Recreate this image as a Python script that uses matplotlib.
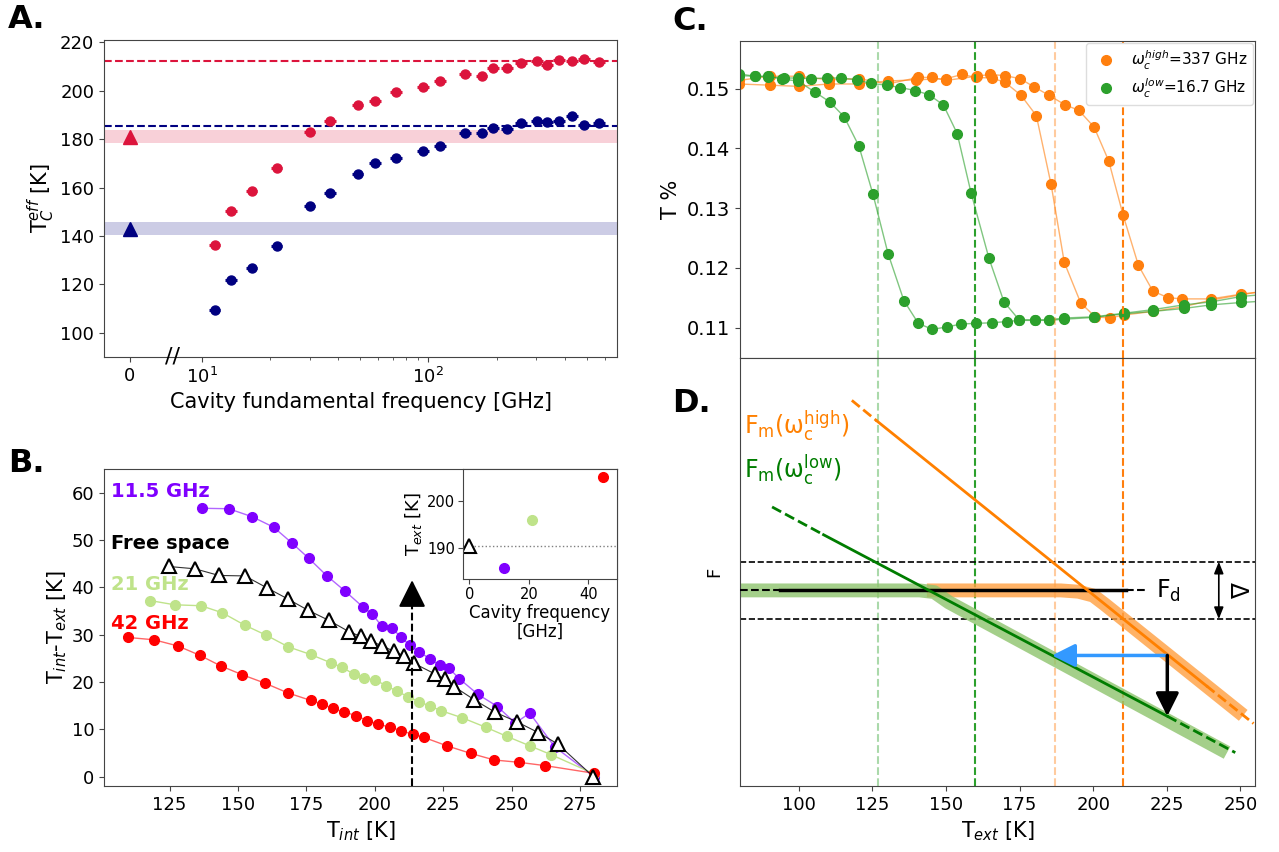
import numpy as np
import matplotlib
matplotlib.use("Agg")
import matplotlib.pyplot as plt
from matplotlib.ticker import FixedLocator, NullFormatter

plt.rcParams["axes.edgecolor"] = "#444444"
plt.rcParams["xtick.color"] = "#444444"
plt.rcParams["ytick.color"] = "#444444"
plt.rcParams["xtick.labelcolor"] = "black"
plt.rcParams["ytick.labelcolor"] = "black"

# ── A: effective Tc vs cavity fundamental frequency ─────────────
freq_a = [11.4, 13.5, 16.6, 21.4, 29.9, 36.8, 48.7, 58.1, 72.2, 95.1, 113,
          145, 172, 193, 223, 256, 302, 335, 377, 430, 488, 565]
tc_heat = [136.3, 150.2, 158.6, 168.0, 182.8, 187.6, 194.0, 195.8, 199.5,
           201.4, 204.0, 207.1, 206.0, 209.5, 209.6, 211.5, 212.5, 210.6,
           212.7, 212.3, 213.2, 212.1]
tc_cool = [109.6, 121.9, 126.7, 135.9, 152.4, 157.9, 165.7, 170.2, 172.3,
           175.3, 177.3, 182.4, 182.4, 184.6, 184.4, 186.9, 187.6, 187.3,
           187.6, 189.6, 185.8, 186.5]
free_heat, free_cool = 180.9, 142.9          # free space (plotted at "0")
band_heat = (178.3, 183.9)
band_cool = (140.4, 145.9)
asym_heat, asym_cool = 212.2, 185.4
ZERO_POS = 4.8                                # where "0" sits on the log axis
ERR_FRAC = 0.06

# ── B: Tint - Text vs Tint ─────────────────────────────────────
t_115 = [136.8, 146.6, 155.2, 163.0, 169.6, 175.9, 182.5, 189.1, 195.7, 199.1,
         202.5, 206.1, 209.6, 212.9, 216.3, 220.1, 223.7, 227.1, 230.8, 237.6,
         244.8, 251.3, 256.6, 265.7, 280.0]
d_115 = [56.7, 56.6, 54.9, 52.7, 49.4, 46.1, 42.4, 39.2, 35.8, 34.3, 31.8,
         31.5, 29.4, 27.7, 26.3, 24.9, 23.5, 22.9, 20.7, 17.4, 14.8, 11.3,
         13.4, 6.3, 0.0]
t_free = [124.6, 134.3, 143.0, 152.5, 160.5, 168.3, 175.4, 183.2, 190.6, 194.9,
          198.7, 202.7, 206.9, 210.6, 214.4, 221.9, 225.6, 229.0, 236.4, 243.9,
          251.8, 259.7, 266.8, 279.8]
d_free = [44.4, 43.9, 42.5, 42.4, 39.9, 37.5, 35.2, 33.0, 30.6, 29.6, 28.6,
          27.6, 26.5, 25.5, 23.9, 21.7, 20.6, 19.0, 16.2, 13.6, 11.6, 9.3,
          6.9, 0.0]
t_21 = [117.8, 126.8, 136.5, 144.3, 152.4, 160.2, 168.4, 176.5, 184.1, 187.9,
        192.2, 196.0, 200.1, 204.2, 208.1, 212.1, 216.2, 220.1, 224.3, 232.0,
        240.6, 248.2, 256.6, 264.5, 280.0]
d_21 = [37.2, 36.3, 36.1, 34.6, 32.0, 29.9, 27.4, 25.8, 24.0, 23.1, 21.7,
        20.8, 20.4, 19.2, 18.0, 16.9, 15.8, 14.9, 13.9, 12.4, 10.4, 8.5, 6.5,
        4.6, 0.6]
t_42 = [109.7, 119.3, 128.0, 136.1, 143.6, 151.6, 160.0, 168.1, 176.5, 180.7,
        184.6, 188.9, 193.1, 197.2, 201.3, 205.5, 209.7, 213.9, 217.8, 226.3,
        235.0, 243.6, 252.8, 262.3, 280.0]
d_42 = [29.4, 28.9, 27.6, 25.6, 23.4, 21.5, 19.7, 17.7, 16.1, 15.3, 14.4,
        13.6, 12.9, 11.8, 11.1, 10.4, 9.7, 8.9, 8.3, 6.5, 4.9, 3.5, 3.0, 2.3,
        0.7]
t_cut = 213.6                                 # vertical cut shown in inset
cut_top = 41.5
inset_freq = [0, 11.5, 21, 45]
inset_text = [190.5, 185.8, 195.9, 205.1]

# ── C: transmission vs Text ────────────────────────────────────
c_high1_t = [79.7, 90.2, 100.0, 110.2, 120.3, 130.3, 139.9, 150.1, 155.5,
             160.1, 165.5, 170.0, 175.5, 180.7, 185.7, 190.2, 195.8, 200.7,
             205.6, 210.5, 220.3, 230.8, 240.1, 250.3, 257.0]
c_high1_y = [0.1508, 0.1506, 0.1504, 0.1508, 0.1508, 0.1513, 0.1515, 0.1517,
             0.1524, 0.1519, 0.1518, 0.1511, 0.1489, 0.1455, 0.1340, 0.1209,
             0.1141, 0.1118, 0.1116, 0.1121, 0.1127, 0.1135, 0.1146, 0.1155,
             0.1160]
c_high2_t = [79.7, 90.2, 100.0, 110.2, 120.3, 130.3, 140.6, 145.2, 150.1,
             160.4, 165.0, 170.0, 175.1, 180.0, 185.0, 190.5, 195.1, 200.3,
             205.3, 210.2, 215.4, 220.3, 225.5, 230.3, 240.1, 250.3, 257.0]
c_high2_y = [0.1514, 0.1521, 0.1521, 0.1515, 0.1517, 0.1508, 0.1519, 0.1519,
             0.1514, 0.1521, 0.1524, 0.1522, 0.1517, 0.1503, 0.1489, 0.1473,
             0.1464, 0.1436, 0.1379, 0.1288, 0.1204, 0.1161, 0.1150, 0.1148,
             0.1148, 0.1156, 0.1160]
c_low1_t = [79.7, 85.0, 89.5, 94.4, 99.7, 105.6, 110.5, 115.4, 120.4, 125.2,
            130.3, 135.7, 140.6, 145.3, 150.3, 155.2, 160.1, 165.5, 170.6,
            174.8, 180.1, 184.9, 190.2, 200.3, 210.5, 220.3, 230.8, 240.1,
            250.3, 257.0]
c_low1_y = [0.1522, 0.1521, 0.1521, 0.1516, 0.1513, 0.1494, 0.1478, 0.1453,
            0.1404, 0.1323, 0.1224, 0.1145, 0.1107, 0.1097, 0.1101, 0.1106,
            0.1107, 0.1108, 0.1110, 0.1112, 0.1112, 0.1112, 0.1114, 0.1117,
            0.1123, 0.1127, 0.1132, 0.1138, 0.1142, 0.1144]
c_low2_t = [79.7, 85.0, 89.5, 95.1, 99.7, 104.2, 109.5, 114.4, 119.6, 124.5,
            129.8, 134.5, 139.6, 144.2, 149.1, 153.8, 158.5, 164.6, 169.7,
            174.8, 180.1, 184.9, 190.2, 200.3, 210.5, 220.3, 230.8, 240.1,
            250.3, 257.0]
c_low2_y = [0.1525, 0.1521, 0.1520, 0.1518, 0.1518, 0.1517, 0.1518, 0.1518,
            0.1515, 0.1509, 0.1506, 0.1502, 0.1497, 0.1490, 0.1473, 0.1425,
            0.1326, 0.1216, 0.1143, 0.1113, 0.1113, 0.1113, 0.1116, 0.1118,
            0.1124, 0.1130, 0.1138, 0.1143, 0.1152, 0.1155]
t_marks = [127, 160, 187, 210]                # transition temperatures

# ── D: free-energy sketch (arbitrary units) ────────────────────
f_d = 4.57
delta_lo, delta_hi = 3.90, 5.24
high_t = [118.0, 126.5, 238.5, 254.5]         # dashed / solid / dashed
high_f = [9.01, 8.53, 2.34, 1.46]
low_t = [90.9, 108.4, 225.2, 248.3]
low_f = [6.52, 5.87, 1.63, 0.78]
high_band_t = [143.5, 189.0, 195.0, 200.0, 204.0, 251.0]
high_band_f = [4.57, 4.57, 4.54, 4.45, 4.24, 1.65]
low_band_t = [79.5, 141.0, 146.0, 151.0, 245.5]
low_band_f = [4.57, 4.57, 4.53, 4.29, 0.78]
fd_solid = (93.7, 211.2)
arrow_t, arrow_f0 = 225.2, 3.05
blue_end, black_end = 186.0, 1.63

C_HEAT, C_COOL = "crimson", "navy"
C_115, C_21, C_42 = "#7f00ff", "#bfe38a", "#ff0000"
C_OR, C_GR = "#ff7f0e", "#2ca02c"

fig = plt.figure(figsize=(12.79, 8.52), dpi=100)
W, H = 1279, 852


def rect(l, t, r, b):
    return [l / W, 1 - b / H, (r - l) / W, (b - t) / H]


# ---------------- A ----------------
axA = fig.add_axes(rect(104, 40, 617, 357))
axA.set_xscale("log")
axA.axhspan(*band_heat, color=C_HEAT, alpha=0.2, lw=0)
axA.axhspan(*band_cool, color=C_COOL, alpha=0.2, lw=0)
axA.axhline(asym_heat, color=C_HEAT, ls="--", lw=1.5)
axA.axhline(asym_cool, color=C_COOL, ls="--", lw=1.5)
for tc, col in [(tc_heat, C_HEAT), (tc_cool, C_COOL)]:
    f = np.array(freq_a)
    axA.errorbar(f, tc, xerr=f * ERR_FRAC, yerr=0.6, fmt="o", ms=6.5,
                 color=col, elinewidth=2.2, capsize=0)
axA.plot([ZERO_POS], [free_heat], "^", color=C_HEAT, ms=10)
axA.plot([ZERO_POS], [free_cool], "^", color=C_COOL, ms=10)
axA.set_xlim(3.7, 680)
axA.set_ylim(90, 221)
axA.set_xticks([ZERO_POS, 10, 100])
axA.set_xticklabels(["0", "$10^1$", "$10^2$"])
axA.xaxis.set_minor_locator(FixedLocator(
    [20, 30, 40, 50, 60, 70, 80, 90, 200, 300, 400, 500, 600]))
axA.xaxis.set_minor_formatter(NullFormatter())
axA.set_yticks(range(100, 221, 20))
axA.tick_params(labelsize=13)
axA.text(7.4, 90, "//", fontsize=16, ha="center", va="center",
         clip_on=False)
axA.set_xlabel("Cavity fundamental frequency [GHz]", fontsize=15)
axA.set_ylabel("T$_C^{eff}$ [K]", fontsize=15, labelpad=2)

# ---------------- B ----------------
axB = fig.add_axes(rect(104, 469, 617, 786))
axB.plot(t_115, d_115, "-", color=C_115, lw=1, alpha=0.6)
axB.plot(t_115, d_115, "o", color=C_115, ms=7)
axB.plot(t_21, d_21, "-", color=C_21, lw=1)
axB.plot(t_21, d_21, "o", color=C_21, ms=7)
axB.plot(t_42, d_42, "-", color=C_42, lw=1, alpha=0.6)
axB.plot(t_42, d_42, "o", color=C_42, ms=7)
axB.plot(t_free, d_free, "-", color="black", lw=0.8, alpha=0.8)
axB.plot(t_free, d_free, "^", mfc="white", mec="black", mew=1.5, ms=10)
# dashed shaft + solid head
axB.plot([t_cut, t_cut], [-2, cut_top - 4], "--", color="black", lw=1.5)
axB.annotate("", xy=(t_cut, cut_top), xytext=(t_cut, cut_top - 5),
             arrowprops=dict(arrowstyle="-|>,head_length=0.8,head_width=0.4",
                             lw=1.5, color="black", mutation_scale=21,
                             shrinkA=0, shrinkB=0))
for txt, y, col in [("11.5 GHz", 60.2, C_115), ("Free space", 49.3, "black"),
                    ("21 GHz", 40.5, C_21), ("42 GHz", 32.4, C_42)]:
    axB.text(103.5, y, txt, color=col, fontsize=14, fontweight="bold",
             va="center", ha="left")
axB.set_xlim(101, 288.5)
axB.set_ylim(-2, 65)
axB.set_xticks(range(125, 276, 25))
axB.set_yticks(range(0, 61, 10))
axB.tick_params(labelsize=13)
axB.set_xlabel("T$_{int}$ [K]", fontsize=15)
axB.set_ylabel("T$_{int}$-T$_{ext}$ [K]", fontsize=15, labelpad=2)

axIn = fig.add_axes(rect(463, 469, 617, 579))
axIn.axhline(inset_text[0], color="gray", ls=":", lw=1)
axIn.plot(inset_freq[0], inset_text[0], "^", mfc="white", mec="black",
          mew=1.5, ms=10)
for fr, tx, col in zip(inset_freq[1:], inset_text[1:], [C_115, C_21, C_42]):
    axIn.plot(fr, tx, "o", color=col, ms=7)
axIn.set_xlim(-2.1, 49.6)
axIn.set_ylim(183.5, 206.7)
axIn.set_xticks([0, 20, 40])
axIn.set_yticks([190, 200])
axIn.tick_params(labelsize=10.5, pad=2)
axIn.set_xlabel("Cavity frequency\n[GHz]", fontsize=12, labelpad=2,
                linespacing=1.0)
axIn.set_ylabel("T$_{ext}$ [K]", fontsize=13, labelpad=2)

# ---------------- C ----------------
axC = fig.add_axes(rect(740, 41, 1255, 358))
for tt, yy in [(c_high1_t, c_high1_y), (c_high2_t, c_high2_y)]:
    axC.plot(tt, yy, "-", color=C_OR, lw=1, alpha=0.6)
    axC.plot(tt[:-1], yy[:-1], "o", color=C_OR, ms=7)
for tt, yy in [(c_low1_t, c_low1_y), (c_low2_t, c_low2_y)]:
    axC.plot(tt, yy, "-", color=C_GR, lw=1, alpha=0.6)
    axC.plot(tt[:-1], yy[:-1], "o", color=C_GR, ms=7)
axC.plot([], [], "o", color=C_OR, ms=7,
         label=r"$\omega_c^{high}$=337 GHz")
axC.plot([], [], "o", color=C_GR, ms=7,
         label=r"$\omega_c^{low}$=16.7 GHz")
axC.legend(loc="upper right", fontsize=11, handletextpad=0.6,
           labelspacing=0.3, borderpad=0.35, borderaxespad=0.15,
           framealpha=1, edgecolor="#dddddd")
axC.set_xlim(80, 255)
axC.set_ylim(0.1049, 0.158)
axC.set_yticks([0.11, 0.12, 0.13, 0.14, 0.15])
axC.tick_params(labelsize=14, labelbottom=False, bottom=False)
axC.set_ylabel("T %", fontsize=15)

# ---------------- D ----------------
axD = fig.add_axes(rect(740, 358, 1255, 786))
for ax in (axC, axD):
    ax.axvline(t_marks[0], color=C_GR, ls="--", lw=1.5, alpha=0.4)
    ax.axvline(t_marks[1], color=C_GR, ls="--", lw=1.5)
    ax.axvline(t_marks[2], color=C_OR, ls="--", lw=1.5, alpha=0.4)
    ax.axvline(t_marks[3], color=C_OR, ls="--", lw=1.5)
axD.axhline(delta_hi, color="black", ls="--", lw=1.2)
axD.axhline(delta_lo, color="black", ls="--", lw=1.2)
axD.plot(high_band_t, high_band_f, color="#ff9f40", alpha=0.8, lw=10,
         solid_joinstyle="round", solid_capstyle="butt", zorder=2)
axD.plot(low_band_t, low_band_f, color="#8ec46d", alpha=0.8, lw=10,
         solid_joinstyle="round", solid_capstyle="butt", zorder=2.1)
axD.plot([80, fd_solid[0]], [f_d, f_d], "--", color="black", lw=1.5, zorder=3)
axD.plot(fd_solid, [f_d, f_d], "-", color="black", lw=2.5, zorder=3)
axD.plot([fd_solid[1], 218.5], [f_d, f_d], "--", color="black", lw=1.5,
         zorder=3)
OR_LINE, GR_LINE = "#ff8000", "#007d00"
axD.plot(high_t[:2], high_f[:2], "--", color=OR_LINE, lw=2, zorder=3)
axD.plot(high_t[1:3], high_f[1:3], "-", color=OR_LINE, lw=2, zorder=3)
axD.plot(high_t[2:], high_f[2:], "--", color=OR_LINE, lw=2, zorder=3)
axD.plot(low_t[:2], low_f[:2], "--", color=GR_LINE, lw=2, zorder=3)
axD.plot(low_t[1:3], low_f[1:3], "-", color=GR_LINE, lw=2, zorder=3)
axD.plot(low_t[2:], low_f[2:], "--", color=GR_LINE, lw=2, zorder=3)
axD.annotate("", xy=(blue_end, arrow_f0), xytext=(arrow_t, arrow_f0),
             arrowprops=dict(arrowstyle="-|>,head_length=0.7,head_width=0.35",
                             color="#3399ff", lw=2.5, mutation_scale=20,
                             shrinkA=0, shrinkB=0), zorder=4)
axD.annotate("", xy=(arrow_t, black_end), xytext=(arrow_t, arrow_f0),
             arrowprops=dict(arrowstyle="-|>,head_length=0.7,head_width=0.35",
                             color="black", lw=2.5, mutation_scale=20,
                             shrinkA=0, shrinkB=0), zorder=4)
axD.annotate("", xy=(242.7, delta_lo), xytext=(242.7, delta_hi),
             arrowprops=dict(arrowstyle="<|-|>,head_length=0.5,head_width=0.2",
                             color="black", lw=1.2, mutation_scale=14,
                             shrinkA=0, shrinkB=0))
axD.text(249, f_d, r"$\Delta$", fontsize=17, rotation=-90, ha="center",
         va="center")
axD.text(221.5, f_d, r"F$_\mathrm{d}$", fontsize=17, ha="left", va="center")
axD.text(81.5, 8.4, r"F$_\mathrm{m}$(ω$_\mathrm{c}^\mathrm{high}$)",
         color=OR_LINE, fontsize=17, ha="left", va="center")
axD.text(81.5, 7.38, r"F$_\mathrm{m}$(ω$_\mathrm{c}^\mathrm{low}$)",
         color=GR_LINE, fontsize=17, ha="left", va="center")
axD.set_xlim(80, 255)
axD.set_ylim(0, 10)
axD.set_yticks([])
axD.set_xticks(range(100, 251, 25))
axD.tick_params(labelsize=13)
axD.set_xlabel("T$_{ext}$ [K]", fontsize=15)
axD.set_ylabel("F", fontsize=13, labelpad=12)

# panel letters
for txt, x, y in [("A.", 8, 19), ("B.", 8, 464), ("C.", 672, 21),
                  ("D.", 672, 404)]:
    fig.text(x / W, 1 - y / H, txt, fontsize=23, fontweight="bold",
             ha="left", va="center")

fig.savefig("out.png", dpi=100)
